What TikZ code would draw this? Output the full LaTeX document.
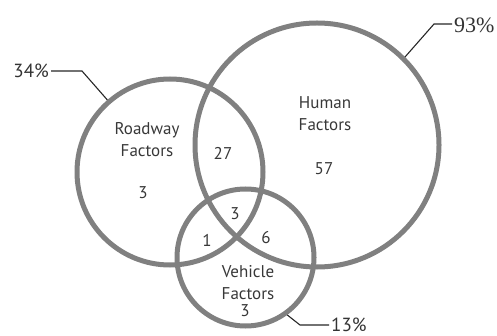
\documentclass[tikz,border=0pt]{standalone}
\usepackage{fontspec}
\setmainfont{PT Sans}
\newfontfamily\serifpct{Liberation Serif}
\usetikzlibrary{calc}

\begin{document}
\begin{tikzpicture}[x=1pt,y=-1pt]
\tikzset{ring/.style={circle,draw=black!50,line width=5pt,inner sep=0pt},
 lbl/.style={text=black!78,font=\fontsize{17}{22}\selectfont,align=center,inner sep=1pt},
 pct/.style={text=black!80,font=\fontsize{19}{19}\selectfont,inner sep=2pt},
 lead/.style={draw=black!85,line width=1.1pt}}
\useasboundingbox (0,0) rectangle (497,336);

% the three sets
\foreach \name/\x/\y/\r in {road/170/172/93,human/317/145/122,vehicle/245.5/257.5/68.5}{
 \node[ring,minimum size={2*\r pt}] (\name) at (\x,\y) {};
 }

% set names
\node[lbl] (roadname) at (147,140) {Roadway\\Factors};
\node[lbl] (humanname) at (325,114) {Human\\Factors};
\node[lbl] (vehname) at (248,283) {Vehicle\\Factors};

% counts in each region
\foreach \x/\y/\n/\val in {143/193/n1/3,223/153/n2/27,324/169/n3/57,235/214/n4/3,207/240/n5/1,266/238/n6/6,245/311/n7/3}{
 \node[lbl] (\n) at (\x,\y) {\val};
 }

% shares with leader lines
\node[pct,anchor=east] (p34) at (51,71) {34\%};
\coordinate (k34) at (82,71);
\draw[lead] (p34.east) -- (k34) -- (road.131);

\node[pct,anchor=west,font=\serifpct\fontsize{22}{22}\selectfont] (p93) at (452,25) {93\%};
\coordinate (k93) at (434,24);
\draw[lead] (p93.west |- k93) -- (k93) -- (human.45.6);

\node[pct,anchor=west] (p13) at (329,325) {13\%};
\coordinate (k13) at (300,325);
\draw[lead] (vehicle.-54) -- (k13) -- (p13.west);
\end{tikzpicture}
\end{document}
